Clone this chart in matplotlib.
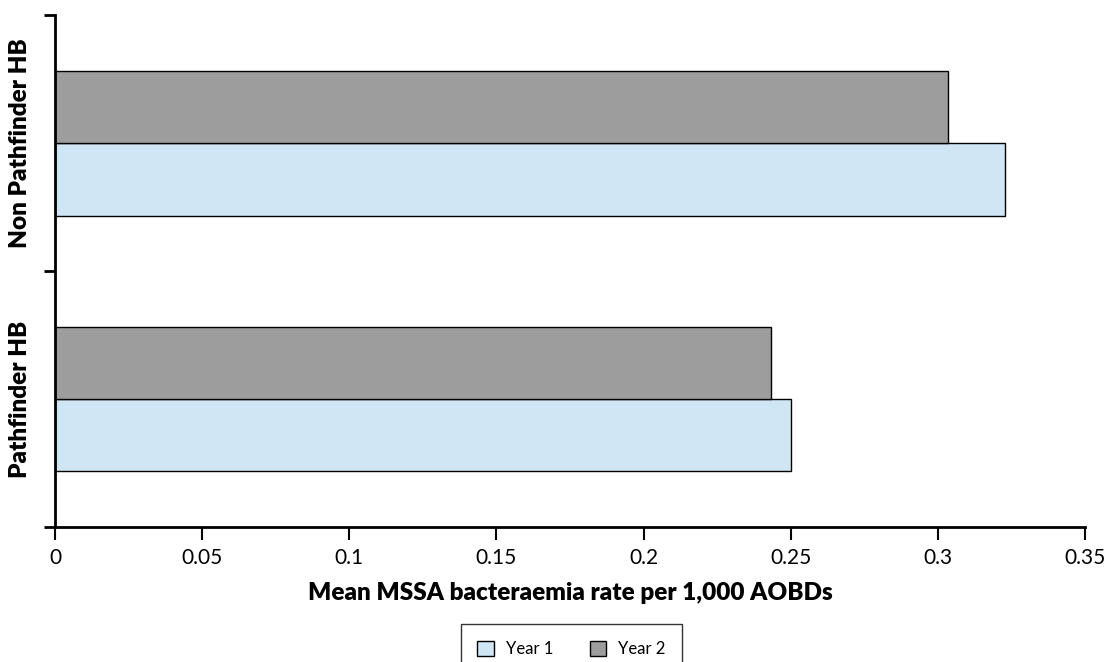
import matplotlib.pyplot as plt
import numpy as np
from matplotlib.patches import Patch

plt.rcParams['font.family'] = ['Lato', 'DejaVu Sans']

groups = ['Pathfinder HB', 'Non Pathfinder HB']
year1 = [0.2501, 0.3228]
year2 = [0.2432, 0.3034]
xticks = [0, 0.05, 0.1, 0.15, 0.2, 0.25, 0.3, 0.35]
xtick_labels = ['0', '0.05', '0.1', '0.15', '0.2', '0.25', '0.3', '0.35']

c1 = '#d0e6f5'
c2 = '#9d9d9d'

fig = plt.figure(figsize=(11.07, 6.62), dpi=100)
ax = fig.add_axes([0.0497, 0.204, 0.9305, 0.773])

pos = np.arange(len(groups)) + 0.5
h = 0.283
ax.barh(pos - h / 2, year1, height=h, color=c1, edgecolor='black', linewidth=1.0)
ax.barh(pos + h / 2, year2, height=h, color=c2, edgecolor='black', linewidth=1.0)

ax.set_xlim(0, 0.35)
ax.set_ylim(0, 2)
ax.set_xticks(xticks)
ax.set_xticklabels(xtick_labels, fontsize=15)

# boundaries get the tick marks, group names sit between them
ax.set_yticks([0, 1, 2])
ax.set_yticklabels([])
ax.set_yticks(pos, minor=True)
ax.set_yticklabels(groups, minor=True, rotation=90, va='center',
                   fontsize=17.5, fontweight='heavy')
ax.tick_params(axis='y', which='minor', length=0, pad=17)
ax.tick_params(axis='y', which='major', length=8, width=2)
ax.tick_params(axis='x', length=9, width=1.5, pad=6)

for s in ['top', 'right']:
    ax.spines[s].set_visible(False)
for s in ['left', 'bottom']:
    ax.spines[s].set_linewidth(2)

ax.set_xlabel('Mean MSSA bacteraemia rate per 1,000 AOBDs', fontsize=17.5,
              fontweight='heavy', labelpad=10)

handles = [Patch(facecolor=c1, edgecolor='black', label='Year 1'),
           Patch(facecolor=c2, edgecolor='black', label='Year 2')]
leg = fig.legend(handles=handles, loc='upper center', bbox_to_anchor=(0.516, 0.07),
                 ncol=2, fontsize=12, frameon=True, fancybox=False,
                 edgecolor='black', handlelength=1.0, handleheight=1.0,
                 columnspacing=2.2, borderpad=1.0, handletextpad=0.7)
leg.get_frame().set_linewidth(1.0)

fig.savefig('out.png', dpi=100)
